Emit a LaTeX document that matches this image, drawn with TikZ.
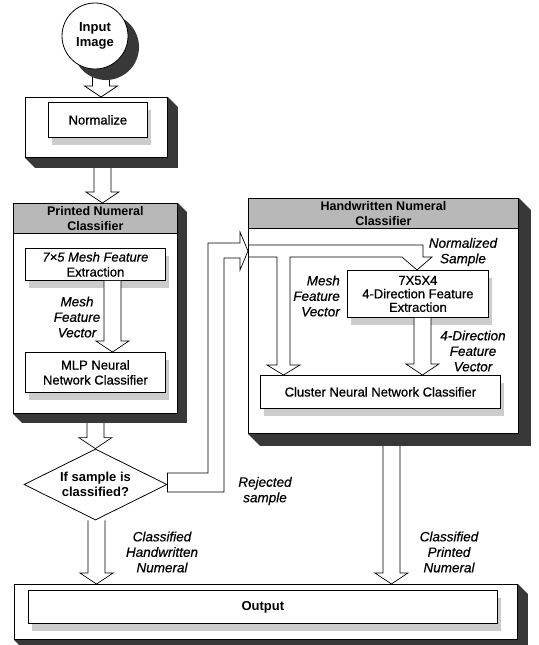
\documentclass[tikz,border=0pt]{standalone}
\usepackage{fontspec}
\setmainfont{Liberation Sans}
\newfontfamily\medfont{Liberation Sans}[FakeBold=0.8]
\newfontfamily\meditfont{Liberation Sans Italic}[FakeBold=0.5]
\usetikzlibrary{calc,shapes.geometric,shadows}
\pgfdeclarelayer{bg}
\pgfsetlayers{bg,main}
\newcommand\fsz{\fontsize{13}{15}\selectfont}
% hollow block arrow pointing down: #1 start (its x is used), #2 end (its y is the tip)
\newcommand\mybarrow[2]{%
  \path[fill=white] let \p1=#1, \p2=#2 in
    (\x1-8.5pt,\y1) -- (\x1-8.5pt,\y2+11pt) -- (\x1-16.5pt,\y2+11pt) -- (\x1,\y2)
    -- (\x1+16.5pt,\y2+11pt) -- (\x1+8.5pt,\y2+11pt) -- (\x1+8.5pt,\y1) -- cycle;
  \draw[conn] let \p1=#1, \p2=#2 in
    (\x1-8.5pt,\y1) -- (\x1-8.5pt,\y2+11pt) -- (\x1-16.5pt,\y2+11pt) -- (\x1,\y2)
    -- (\x1+16.5pt,\y2+11pt) -- (\x1+8.5pt,\y2+11pt) -- (\x1+8.5pt,\y1);}
% 3D extrusion shadow of a box
\newcommand\myxshadow[2]{%
  \fill[dk] (#1.north east) -- ++(#2,#2) -- ($(#1.south east)+(#2,#2)$)
    -- ($(#1.south west)+(#2,#2)$) -- (#1.south west) -- cycle;}
\begin{document}
\begin{tikzpicture}[x=1pt,y=-1pt,
  dk/.style={fill=black!78},
  conn/.style={draw=black,line width=0.7pt,line join=miter},
  box/.style={draw,fill=white,line width=0.8pt,inner sep=0},
  hdr/.style={draw,fill=black!28,line width=0.8pt,inner sep=0,align=center,
    font=\fontsize{12.5}{15}\selectfont\bfseries},
  ibox/.style={draw,fill=white,line width=0.8pt,inner sep=1pt,align=center,font=\fsz\medfont,
    general shadow={fill=black!20,shadow xshift=4pt,shadow yshift=-8pt}},
  lbl/.style={inner sep=0,align=center,font=\fontsize{13.5}{15.5}\selectfont\meditfont}]
\useasboundingbox (0,0) rectangle (538,645);
\begin{pgfonlayer}{bg}
\fill[white] (0,0) rectangle (538,645);
\end{pgfonlayer}

% ---- nodes ----
\node[circle,draw,fill=white,line width=0.8pt,minimum size=66pt,inner sep=0,
  align=center,font=\fsz\bfseries] (inp) at (95,36) {Input\\Image};

\node[box,anchor=north west,minimum width=142pt,minimum height=60pt] (normo) at (25,97) {};
\node[ibox,anchor=north west,minimum width=99pt,minimum height=35pt] (norm) at (48,102) {Normalize};

\node[box,anchor=north west,minimum width=164pt,minimum height=210pt] (pco) at (13,203) {};
\node[hdr,anchor=north west,minimum width=164pt,minimum height=30pt] (pch) at (13,203) {Printed Numeral\\Classifier};
\node[ibox,anchor=north west,minimum width=140pt,minimum height=32pt] (mesh) at (25,248) {{\meditfont 7×5 Mesh Feature}\\Extraction};
\node[ibox,anchor=north west,minimum width=140pt,minimum height=40pt] (mlp) at (25,352) {MLP Neural\\Network Classifier};

\node[diamond,draw,fill=white,line width=0.8pt,minimum width=143pt,minimum height=71pt,
  inner sep=0,aspect=2,align=center,font=\fsz\bfseries] (dia) at (95.5,484.5) {If sample is\\classified?};

\node[box,anchor=north west,minimum width=270pt,minimum height=235pt] (hwo) at (248,198) {};
\node[hdr,anchor=north west,minimum width=270pt,minimum height=30pt] (hwh) at (248,198) {Handwritten Numeral\\Classifier};
\node[ibox,anchor=north west,minimum width=141pt,minimum height=47pt,
  font=\fontsize{13}{13.5}\selectfont\medfont] (fd) at (347,270) {7X5X4\\4-Direction Feature\\Extraction};
\node[ibox,anchor=north west,minimum width=240pt,minimum height=33pt] (cl) at (260,375) {Cluster Neural Network Classifier};

\node[box,anchor=north west,minimum width=503pt,minimum height=55pt] (outo) at (14,584) {};
\node[ibox,anchor=north west,minimum width=469pt,minimum height=33pt,font=\fsz\bfseries] (out) at (28,590) {Output};

% ---- labels ----
\node[lbl] (l1) at (77,317) {Mesh\\Feature\\Vector};
\node[lbl] (l2) at (463,252) {Normalized\\Sample};
\node[lbl,align=right,anchor=east] (l3) at (340,296) {Mesh\\Feature\\Vector};
\node[lbl] (l4) at (473,351) {4-Direction\\Feature\\Vector};
\node[lbl] (l5) at (265,491) {Rejected\\sample};
\node[lbl] (l6) at (162,552) {Classified\\Handwritten\\Numeral};
\node[lbl] (l7) at (449,552) {Classified\\Printed\\Numeral};

% ---- background: arrows between blocks, then shadows ----
\begin{pgfonlayer}{bg}
\mybarrow{($(inp.south)+(6,0)$)}{(normo.north)}
\mybarrow{($(normo.south)+(6,0)$)}{(pco.north)}
\mybarrow{(pco.south)}{(dia.north)}
\mybarrow{($(dia.south)+(1,0)$)}{(outo.north)}
\mybarrow{($(hwo.south)+(8,0)$)}{(outo.north)}
\fill[dk] ($(inp.center)+(11,11)$) circle (33pt);
\myxshadow{normo}{10}
\myxshadow{pco}{9}
\myxshadow{hwo}{12}
\myxshadow{outo}{10}
\end{pgfonlayer}

% ---- arrows inside classifiers ----
\mybarrow{($(mesh.south)+(17,0)$)}{(mlp.north)}
\mybarrow{($(fd.south)+(4.5,0)$)}{(cl.north)}

% split channel inside the handwritten classifier
\draw[conn] let \p1=(hwo.west), \p2=(fd.north), \p3=(cl.north) in
  (\x1,-245pt) -- (423pt,-245pt) -- (423pt,-257pt) -- (432pt,-257pt) -- (417pt,\y2)
  -- (402pt,-257pt) -- (290pt,-257pt) -- (290pt,-365pt) -- (300pt,-365pt) -- (283.5pt,\y3)
  -- (267pt,-365pt) -- (277pt,-365pt) -- (277pt,-257pt) -- (\x1,-257pt);

% rejected sample channel
\filldraw[conn,fill=white] let \p1=(dia.east), \p2=(hwo.west) in
  (\x1,-473pt) -- (208pt,-473pt) -- (208pt,-243pt) -- (240pt,-243pt) -- (240pt,-232pt)
  -- (\x2,-251pt) -- (240pt,-270pt) -- (240pt,-258pt) -- (224pt,-258pt) -- (224pt,-492pt)
  -- (\x1,-492pt) -- cycle;
\end{tikzpicture}
\end{document}
